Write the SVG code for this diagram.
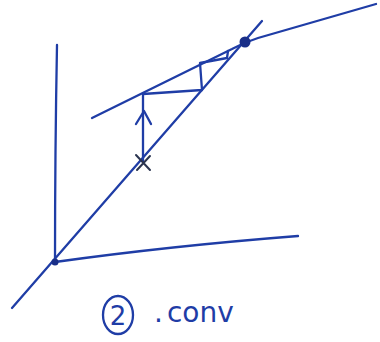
<svg xmlns="http://www.w3.org/2000/svg" width="380" height="342" viewBox="0 0 380 342">
<style>
.ln{fill:none;stroke:#1f3da6;stroke-width:2.3;stroke-linecap:round;stroke-linejoin:round}
.tx{fill:#1f3da6;font-family:"DejaVu Sans",sans-serif}
</style>
<rect width="380" height="342" fill="#ffffff"/>
<g id="axes">
<path class="ln" d="M57,45 Q55,150 55,262"/>
<path class="ln" d="M55,262 Q170,246 298,236"/>
</g>
<g id="diagonal">
<path class="ln" d="M12,308 L262,21"/>
</g>
<g id="curve-g">
<path class="ln" d="M92,118 L232,49 Q245,42 258,38 L376,4"/>
</g>
<g id="connectors">
<path class="ln" d="M143,162 L143,94 L202,90 L200,63 L227,58 L228,51"/>
<path class="ln" d="M136,124 L144,111 L151,124"/>
</g>
<g id="points">
<circle cx="245" cy="42" r="5.5" fill="#1a2f88"/>
<circle cx="55" cy="262" r="3.5" fill="#1a2f88"/>
<path d="M136,155 L150,170 M150,156 L137,170" fill="none" stroke="#2b3550" stroke-width="2" stroke-linecap="round"/>
</g>
<g id="label">
<ellipse class="ln" cx="118" cy="315" rx="15" ry="19"/>
<text class="tx" x="118" y="325" font-size="26" text-anchor="middle">2</text>
<text class="tx" x="154" y="322" font-size="28">.<tspan dx="4">conv</tspan></text>
</g>
</svg>
